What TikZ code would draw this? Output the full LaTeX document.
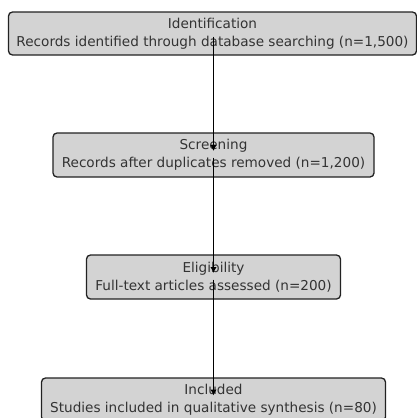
\documentclass[tikz,border=0pt]{standalone}
\usepackage{fontspec}
\setmainfont{DejaVu Sans}
\usetikzlibrary{calc,arrows.meta}
\definecolor{boxfill}{HTML}{D3D3D3}
\definecolor{boxline}{HTML}{222222}
\definecolor{txt}{HTML}{333333}
\definecolor{arr}{HTML}{000000}
\begin{document}
\begin{tikzpicture}[x=1pt,y=-1pt,
  stage/.style={draw=boxline,fill=boxfill,line width=1.3pt,rounded corners=4pt,
    inner sep=0pt,align=center,text=txt,
    font=\fontsize{13.6pt}{19pt}\selectfont},
  flow/.style={draw=arr,line width=1.9pt,-{Latex[length=6pt,width=6.5pt]}}]
\useasboundingbox (0,0) rectangle (417,418);
\node[stage,minimum width=408pt,minimum height=43pt] (b1) at (212.5,33.5)
  {\raisebox{-1pt}{Identification}\\Records identified through database searching (n=1,500)};
\node[stage,minimum width=321pt,minimum height=44pt] (b2) at (213.5,155)
  {\raisebox{-1pt}{Screening}\\Records after duplicates removed (n=1,200)};
\node[stage,minimum width=254pt,minimum height=44pt] (b3) at (213.5,277)
  {\raisebox{-1pt}{Eligibility}\\Full-text articles assessed (n=200)};
\node[stage,minimum width=344pt,minimum height=43pt] (b4) at (213.5,399.5)
  {\raisebox{-1pt}{Included}\\Studies included in qualitative synthesis (n=80)};
\draw[flow] ($(b1.center -| b2.center)+(0,3)$) -- ($(b2.center)+(0,-4)$);
\draw[flow] ($(b2.center)+(0,2.5)$) -- ($(b3.center)+(0,-4)$);
\draw[flow] ($(b3.center)+(0,2.5)$) -- ($(b4.center)+(0,-4)$);
\end{tikzpicture}
\end{document}
